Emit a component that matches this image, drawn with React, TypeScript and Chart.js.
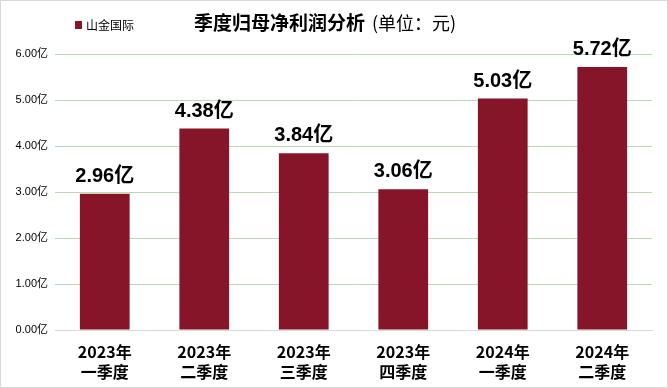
import React, { useEffect, useRef } from "react";
import { Chart, registerables } from "chart.js";

Chart.register(...registerables);

const categories: string[][] = [
  ["2023年", "一季度"],
  ["2023年", "二季度"],
  ["2023年", "三季度"],
  ["2023年", "四季度"],
  ["2024年", "一季度"],
  ["2024年", "二季度"],
];
const profitValues: number[] = [2.96, 4.38, 3.84, 3.06, 5.03, 5.72];
const seriesName = "山金国际";
const titleMain = "季度归母净利润分析";
const titleUnit = "(单位：元)";
const barColor = "#87152A";
const cjk = '"Noto Sans CJK SC", "Liberation Sans", sans-serif';
const latin = '"Liberation Sans", "Noto Sans CJK SC", sans-serif';

const decorPlugin = {
  id: "decor",
  afterDatasetsDraw(chart: any) {
    const ctx = chart.ctx as CanvasRenderingContext2D;
    ctx.save();
    // title
    ctx.textBaseline = "middle";
    ctx.textAlign = "left";
    ctx.fillStyle = "#000";
    ctx.font = `bold 19px ${cjk}`;
    const w1 = ctx.measureText(titleMain).width;
    const gap = 7;
    const startX = 193;
    ctx.fillText(titleMain, startX, 22);
    ctx.font = `18px ${cjk}`;
    ctx.fillText(titleUnit, startX + w1 + gap, 22);
    // legend
    ctx.fillStyle = barColor;
    ctx.fillRect(74, 20, 7, 8);
    ctx.fillStyle = "#000";
    ctx.font = `12px ${cjk}`;
    ctx.fillText(seriesName, 85, 24);
    // data labels
    const meta = chart.getDatasetMeta(0);
    ctx.textAlign = "center";
    ctx.textBaseline = "alphabetic";
    ctx.font = `bold 20px ${latin}`;
    meta.data.forEach((bar: any, i: number) => {
      const txt = profitValues[i].toFixed(2) + "亿";
      ctx.fillText(txt, bar.x, bar.y - 12);
    });
    ctx.restore();
  },
};

export default function App() {
  const ref = useRef<HTMLCanvasElement>(null);
  useEffect(() => {
    if (!ref.current) return;
    const chart = new Chart(ref.current, {
      type: "bar",
      data: {
        labels: categories,
        datasets: [
          {
            label: seriesName,
            data: profitValues,
            backgroundColor: barColor,
            categoryPercentage: 1,
            barPercentage: 0.5,
          },
        ],
      },
      options: {
        responsive: false,
        animation: false,
        layout: { padding: { left: 0, right: 15, top: 53, bottom: 0 } },
        plugins: {
          legend: { display: false },
          title: { display: false },
          tooltip: { enabled: false },
        },
        scales: {
          x: {
            grid: { display: false, drawTicks: false },
            border: { display: true, color: "#d9d9d9" },
            ticks: {
              color: "#000",
              font: { family: cjk, size: 16, weight: "bold", lineHeight: 1.25 },
              padding: 12,
              maxRotation: 0,
              autoSkip: false,
            },
            afterFit(scale: any) {
              scale.height = 57;
            },
          },
          y: {
            min: 0,
            max: 6,
            grid: {
              color: (c: any) => (c.tick && c.tick.value === 0 ? "#d9d9d9" : "#b5dcb5"),
              drawTicks: false,
            },
            border: { display: false },
            ticks: {
              stepSize: 1,
              color: "#000",
              padding: 7,
              font: { family: latin, size: 11 },
              callback: (v: any) => Number(v).toFixed(2) + "亿",
            },
            afterFit(scale: any) {
              scale.width = 54;
            },
          },
        },
      },
      plugins: [decorPlugin],
    });
    return () => chart.destroy();
  }, []);
  return (
    <div
      style={{
        position: "fixed",
        left: 0,
        top: 0,
        width: 668,
        height: 388,
        boxSizing: "border-box",
        border: "1px solid #d9d9d9",
        background: "#fff",
      }}
    >
      <canvas ref={ref} width={666} height={386} style={{ display: "block" }} />
    </div>
  );
}
